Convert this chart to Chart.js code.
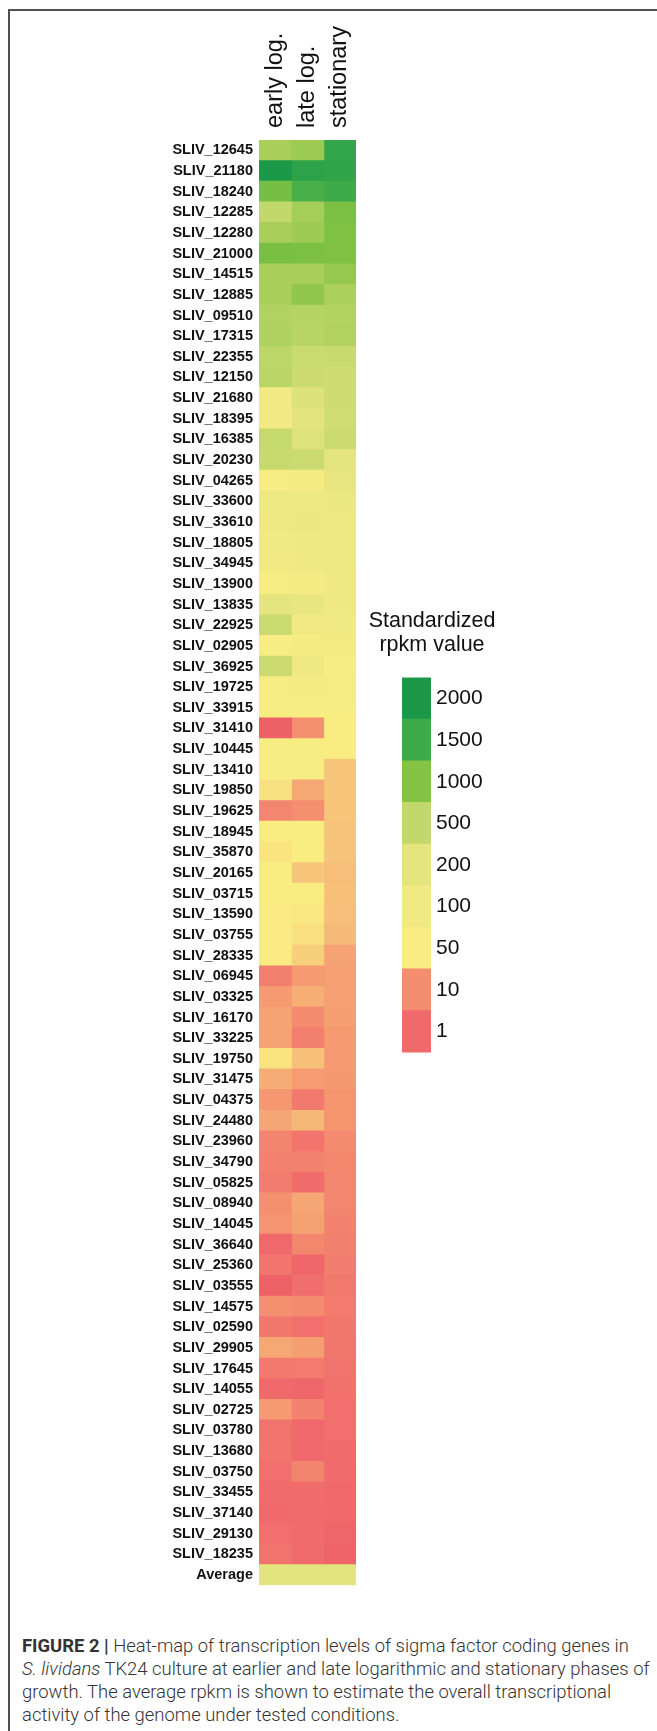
<!DOCTYPE html>
<html>
<head>
<meta charset="utf-8">
<script src="https://cdn.jsdelivr.net/npm/chart.js@4.4.1/dist/chart.umd.min.js"></script>
<style>
html,body{margin:0;padding:0;background:#fff;}
body{width:657px;height:1731px;position:relative;overflow:hidden;font-family:'Liberation Sans',Arial,sans-serif;}
#frame{position:absolute;left:8px;top:9px;width:700px;height:1800px;border-top:2px solid #505050;border-left:2px solid #505050;}
#heatWrap{position:absolute;left:0;top:0;width:380px;height:1600px;}
#legWrap{position:absolute;left:395px;top:660px;width:130px;height:410px;}
#legTitle{position:absolute;left:352px;width:160px;top:608px;text-align:center;font-size:21.5px;line-height:24px;color:#111;}
#caption{position:absolute;left:22px;top:1634px;font-family:Roboto,'Liberation Sans',sans-serif;font-weight:300;color:#333;line-height:23px;font-size:16px;}
#caption div{white-space:nowrap;}
#caption span.l{display:inline-block;white-space:nowrap;}
</style>
</head>
<body>
<div id="frame"></div>
<div id="heatWrap"><canvas id="heat"></canvas></div>
<div id="legTitle">Standardized<br>rpkm value</div>
<div id="legWrap"><canvas id="leg"></canvas></div>
<div id="caption">
<div><span class="l"><b style="font-weight:700">FIGURE 2 |</b> Heat-map of transcription levels of sigma factor coding genes in</span></div>
<div><span class="l" id="cap2"><i>S. lividans</i> TK24 culture at earlier and late logarithmic and stationary phases of</span></div>
<div><span class="l">growth. The average rpkm is shown to estimate the overall transcriptional</span></div>
<div><span class="l">activity of the genome under tested conditions.</span></div>
</div>
<script>
// ---- data ----
const genes = [
 'SLIV_12645','SLIV_21180','SLIV_18240','SLIV_12285','SLIV_12280','SLIV_21000','SLIV_14515','SLIV_12885','SLIV_09510','SLIV_17315',
 'SLIV_22355','SLIV_12150','SLIV_21680','SLIV_18395','SLIV_16385','SLIV_20230','SLIV_04265','SLIV_33600','SLIV_33610','SLIV_18805',
 'SLIV_34945','SLIV_13900','SLIV_13835','SLIV_22925','SLIV_02905','SLIV_36925','SLIV_19725','SLIV_33915','SLIV_31410','SLIV_10445',
 'SLIV_13410','SLIV_19850','SLIV_19625','SLIV_18945','SLIV_35870','SLIV_20165','SLIV_03715','SLIV_13590','SLIV_03755','SLIV_28335',
 'SLIV_06945','SLIV_03325','SLIV_16170','SLIV_33225','SLIV_19750','SLIV_31475','SLIV_04375','SLIV_24480','SLIV_23960','SLIV_34790',
 'SLIV_05825','SLIV_08940','SLIV_14045','SLIV_36640','SLIV_25360','SLIV_03555','SLIV_14575','SLIV_02590','SLIV_29905','SLIV_17645',
 'SLIV_14055','SLIV_02725','SLIV_03780','SLIV_13680','SLIV_03750','SLIV_33455','SLIV_37140','SLIV_29130','SLIV_18235','Average'
];
const columns = ['early log.','late log.','stationary'];
const earlyLog = [
 710,2000,1100,510,710,1090,710,725,645,660,
 550,565,94,94,480,455,62,125,117,100,
 94,62,200,447,56,430,62,56,0.3,62,
 56,45,8,50,46,50,50,49,49,49,
 6,15,19,19,46,23,14,20,7.8,6.8,
 5.8,10.8,12.5,0.85,3.5,0.4,10.8,4.5,21,5,
 0.9,15,3.2,3.5,2.5,1.2,1,2.5,3.2,225
];
const lateLog = [
 820,1740,1420,740,800,1070,720,895,605,590,
 447,421,280,218,271,421,69,125,142,108,
 108,69,183,94,75,108,69,56,10.4,56,
 56,21,10.4,50,50,33,50,48,44,37,
 15,23.5,9,6.2,31,16,4.8,27.7,3.5,7,
 1.8,20,18.4,8.2,0.8,2,9.2,2.5,16.7,5.2,
 0.8,7.2,0.86,0.86,7.5,1.8,1.5,1.2,1.5,225
];
const stationary = [
 1645,1660,1490,1060,1050,1035,870,695,630,637,
 456,403,403,394,429,209,192,150,125,125,
 125,108,108,100,88,56,62,56,51,50,
 33,33,33,32,32,30,31,30,28.5,19,
 17,17,16.7,15,15,14.6,13,13,9,8.5,
 8,8,7.2,6.5,5.5,5,5.2,4.5,4.3,3.2,
 3,2.5,2.2,1.8,1.5,1,0.9,0.7,0.6,225
];
const legendLabels = ['2000','1500','1000','500','200','100','50','10','1'];
const legendValues = [2000,1500,1000,500,200,100,50,10,1];
const legendColors = ['#1b9948','#3dab4a','#85c342','#c3d86c','#e5e57f','#f1e982','#f9ed82','#f48e6f','#f06a6c'];

// ---- colour scale ----
const stops = legendValues.map((v,i)=>({v, c:legendColors[i]})).reverse();
stops.unshift({v:0, c:'#ec5c64'});
function hex(c){return [1,3,5].map(i=>parseInt(c.substr(i,2),16));}
function colorFor(v){
  if (v >= stops[stops.length-1].v) return stops[stops.length-1].c;
  for (let i=0;i<stops.length-1;i++){
    const a=stops[i], b=stops[i+1];
    if (v>=a.v && v<=b.v){
      const t=(v-a.v)/(b.v-a.v), ca=hex(a.c), cb=hex(b.c);
      const m=ca.map((x,k)=>Math.round(x+(cb[k]-x)*t));
      return 'rgb('+m.join(',')+')';
    }
  }
  return stops[0].c;
}

const FAM = "'Liberation Sans', Arial, sans-serif";
const seriesValues = [earlyLog, lateLog, stationary];

// column headers drawn at the category scale's pixel positions, reading bottom-to-top
const headerPlugin = {
  id: 'headers',
  afterDraw(chart) {
    const s = chart.scales.xTop, ctx = chart.ctx;
    ctx.save();
    ctx.fillStyle = '#111';
    ctx.font = '23.5px ' + FAM;
    ctx.textAlign = 'left';
    ctx.textBaseline = 'middle';
    columns.forEach((lab, i) => {
      ctx.save();
      ctx.translate(s.getPixelForValue(i), chart.chartArea.top - 12);
      ctx.rotate(-Math.PI / 2);
      ctx.fillText(lab, 0, 0);
      ctx.restore();
    });
    ctx.restore();
  }
};

new Chart(document.getElementById('heat'), {
  type: 'bar',
  data: {
    labels: genes,
    datasets: seriesValues.map((vals, c) => ({
      label: columns[c],
      data: genes.map(() => [c, c + 1]),
      backgroundColor: vals.map(colorFor),
      borderWidth: 0,
      inflateAmount: 0.5,
      barPercentage: 1,
      categoryPercentage: 1,
      grouped: false
    }))
  },
  options: {
    indexAxis: 'y',
    responsive: true,
    maintainAspectRatio: false,
    animation: false,
    devicePixelRatio: 1,
    events: [],
    layout: {padding: {left: 0, top: 0, right: 24, bottom: 13}},
    plugins: {legend: {display: false}, tooltip: {enabled: false}},
    scales: {
      x: {type: 'linear', min: 0, max: 3, display: false},
      xTop: {
        type: 'category', axis: 'x', labels: columns, position: 'top', offset: true,
        grid: {display: false, drawTicks: false}, border: {display: false},
        ticks: {display: false},
        afterFit(s) { s.height = 140; }
      },
      y: {
        type: 'category', position: 'left',
        grid: {display: false, drawTicks: false}, border: {display: false},
        ticks: {autoSkip: false, padding: 6, color: '#111', font: {family: FAM, size: 14.5, weight: 'bold'}},
        afterFit(s) { s.width = 259; }
      }
    }
  },
  plugins: [headerPlugin]
});

new Chart(document.getElementById('leg'), {
  type: 'bar',
  data: {
    labels: legendLabels,
    datasets: [{
      data: legendLabels.map(() => [0, 1]),
      backgroundColor: legendColors,
      borderWidth: 0,
      inflateAmount: 0.5,
      barPercentage: 1,
      categoryPercentage: 1
    }]
  },
  options: {
    indexAxis: 'y',
    responsive: true,
    maintainAspectRatio: false,
    animation: false,
    devicePixelRatio: 1,
    events: [],
    layout: {padding: {left: 7, top: 11, right: 0, bottom: 12}},
    plugins: {legend: {display: false}, tooltip: {enabled: false}},
    scales: {
      x: {type: 'linear', min: 0, max: 1, display: false},
      y: {
        type: 'category', position: 'right',
        grid: {display: false, drawTicks: false}, border: {display: false},
        ticks: {autoSkip: false, padding: 5, color: '#111', font: {family: FAM, size: 21}},
        afterFit(s) { s.width = 94; }
      }
    }
  }
});

// fit caption width to reference line length
(function(){
  const l2 = document.getElementById('cap2');
  const cap = document.getElementById('caption');
  const w = l2.getBoundingClientRect().width;
  cap.style.fontSize = (16 * 628 / w) + 'px';
})();
</script>
</body>
</html>
